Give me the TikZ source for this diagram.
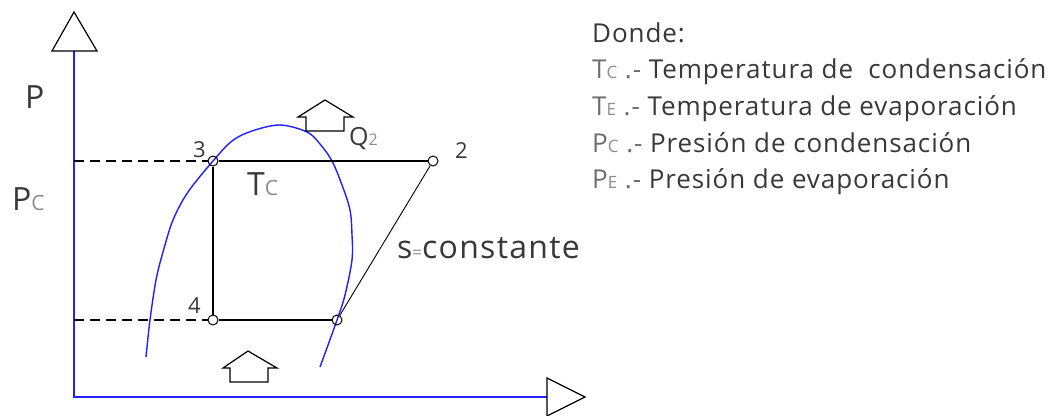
\documentclass[tikz,border=0pt]{standalone}
\usepackage{fontspec}
\setmainfont{Open Sans}
\definecolor{axblue}{HTML}{1F1FFF}
\definecolor{txt}{HTML}{383838}
\definecolor{midg}{HTML}{6E6E6E}
\definecolor{subg}{HTML}{8C8C8C}
\newcommand\smallsub[2]{{\fontsize{#1}{#1}\selectfont\color{subg}#2}}
\tikzset{
  axisline/.style={axblue,line width=2pt},
  dome/.style={axblue,line width=1.4pt},
  cycline/.style={black,line width=1.3pt},
  slantline/.style={black,line width=0.9pt},
  dashline/.style={black,line width=1.2pt,dash pattern=on 10pt off 6pt},
  headtri/.style={black,line width=1.2pt,line join=miter},
  housearrow/.style={black,line width=1.2pt},
  ptc/.style={circle,draw=black,line width=1pt,minimum size=10pt,inner sep=0pt},
  lbl/.style={anchor=base west,inner sep=0pt,text=txt},
  legend/.style={lbl,font=\fontsize{26}{26}\selectfont\addfontfeatures{LetterSpace=3.5}},
}
\begin{document}
\begin{tikzpicture}[x=1pt,y=-1pt]
\useasboundingbox (0,0) rectangle (1056,415);
% axes
\coordinate (o) at (74,397);
\coordinate (ytop) at (74,51);
\coordinate (xend) at (547,397);
\coordinate (yd3) at (74,161);
\coordinate (yd4) at (74,320);
\draw[axisline] (ytop) -- (o) -- (xend);
\draw[headtri] (52,51) -- (74,12) -- (97,51) -- cycle;
\draw[headtri] (547,378) -- (585,397) -- (547,416) -- cycle;
% saturation dome
\draw[dome] plot[smooth,tension=0.55] coordinates {(146,357) (150,320) (156,280) (163,252) (173,220) (188,192) (213,161) (232,141) (252,131) (280,125) (307,132) (320,144) (332,161) (342,185) (350,210) (352,235) (352,260) (345,295) (337,320) (320,367)};
% cycle points
\node[ptc] (p3) at (213,161) {};
\node[ptc] (p2) at (433,161) {};
\node[ptc] (p4) at (213,320) {};
\node[ptc] (p1) at (337,320) {};
\draw[cycline] (p3) -- (p2);
\draw[cycline] (p3) -- (p4);
\draw[cycline] (p4) -- (p1);
\draw[slantline] (p1) -- (p2);
\draw[dashline] (yd3) -- (p3);
\draw[dashline] (yd4) -- (p4);
% heat arrows
\draw[housearrow] (306,131) -- (306,117) -- (298,117) -- (325,100) -- (353,117) -- (344,117) -- (344,131) -- cycle;
\draw[housearrow] (230,382) -- (230,368) -- (223,368) -- (248,351) -- (277,368) -- (268,368) -- (268,382) -- cycle;
% labels
\node[lbl,font=\fontsize{32}{32}\selectfont] (lP) at (25,108) {P};
\node[lbl,font=\fontsize{32}{32}\selectfont] (lPc) at (12,210) {P\smallsub{21}{C}};
\node[lbl,font=\fontsize{22}{22}\selectfont] (l3) at (193,157) {3};
\node[lbl,font=\fontsize{22}{22}\selectfont] (l2) at (455,158) {2};
\node[lbl,font=\fontsize{22}{22}\selectfont] (l4) at (188,313) {4};
\node[lbl,font=\fontsize{32}{32}\selectfont] (lTc) at (247,195) {T\smallsub{21}{C}};
\node[lbl,font=\fontsize{25}{25}\selectfont] (lQ) at (349,145) {Q\smallsub{16}{2}};
\node[lbl,font=\fontsize{32}{32}\selectfont\addfontfeatures{LetterSpace=4}] (ls) at (397,258) {s\smallsub{17}{=}constante};
% legend
\node[legend] (d0) at (592,42) {Donde:};
\node[legend] (d1) at (592,78) {{\color{midg}T\smallsub{17}{C} .-} Temperatura de\ \ condensación};
\node[legend] (d2) at (592,115) {{\color{midg}T\smallsub{17}{E} .-} Temperatura de evaporación};
\node[legend] (d3) at (592,152) {{\color{midg}P\smallsub{17}{C} .-} Presión de condensación};
\node[legend] (d4) at (592,188) {{\color{midg}P\smallsub{17}{E} .-} Presión de evaporación};
\end{tikzpicture}
\end{document}
